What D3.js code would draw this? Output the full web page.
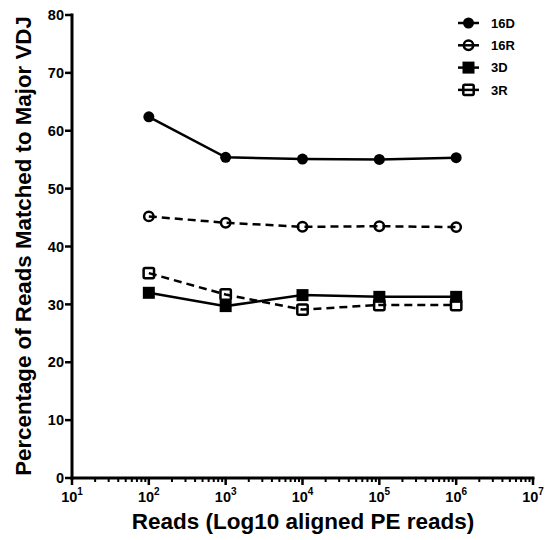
<!DOCTYPE html>
<html>
<head>
<meta charset="utf-8">
<script src="https://cdn.jsdelivr.net/npm/d3@7"></script>
<style>
  html, body { margin: 0; padding: 0; background: #fff; }
  svg { display: block; font-family: "Liberation Sans", Arial, sans-serif; }
</style>
</head>
<body>
<svg id="chart" width="547" height="540"></svg>
<script>
// Sequencing depth (aligned paired-end reads)
const reads = [1e2, 1e3, 1e4, 1e5, 1e6];

// Percentage of reads matched to the major VDJ, per sample
const seriesNames = ["16D", "16R", "3D", "3R"];
const values16D = [62.4, 55.4, 55.1, 55.05, 55.35];
const values16R = [45.2, 44.1, 43.4, 43.5, 43.35];
const values3D  = [32.0, 29.7, 31.6, 31.3, 31.3];
const values3R  = [35.4, 31.7, 29.1, 29.9, 29.9];

const yTicks = [0, 10, 20, 30, 40, 50, 60, 70, 80];
const xDecades = [1, 2, 3, 4, 5, 6, 7];

const series = [
  { name: seriesNames[0], values: values16D, symbol: "circle", filled: true,  dashed: false },
  { name: seriesNames[1], values: values16R, symbol: "circle", filled: false, dashed: true },
  { name: seriesNames[2], values: values3D,  symbol: "square", filled: true,  dashed: false },
  { name: seriesNames[3], values: values3R,  symbol: "square", filled: false, dashed: true }
];

const svg = d3.select("#chart");
const plotLeft = 72, plotRight = 533, plotTop = 15, plotBottom = 478;

const x = d3.scaleLog().domain([1e1, 1e7]).range([plotLeft, plotRight]);
const y = d3.scaleLinear().domain([0, 80]).range([plotBottom, plotTop]);

const ink = "#000";

// Y axis
const yAxis = svg.append("g").attr("transform", `translate(${plotLeft},0)`);
yAxis.append("line").attr("x1", 0).attr("x2", 0).attr("y1", y(80) - 1.5).attr("y2", plotBottom + 1.5)
  .attr("stroke", ink).attr("stroke-width", 3);
yTicks.forEach(t => {
  yAxis.append("line").attr("x1", -7).attr("x2", 0).attr("y1", y(t)).attr("y2", y(t))
    .attr("stroke", ink).attr("stroke-width", 2.5);
  yAxis.append("text").attr("x", -8).attr("y", y(t)).attr("dy", "0.36em")
    .attr("text-anchor", "end").attr("font-weight", "bold").attr("font-size", 14.5)
    .text(t);
});

// X axis (log scale with minor ticks)
const xAxis = svg.append("g").attr("transform", `translate(0,${plotBottom})`);
xAxis.append("line").attr("x1", plotLeft - 1.5).attr("x2", plotRight + 1.5).attr("y1", 0).attr("y2", 0)
  .attr("stroke", ink).attr("stroke-width", 3);
xDecades.forEach(d => {
  const v = Math.pow(10, d);
  xAxis.append("line").attr("x1", x(v)).attr("x2", x(v)).attr("y1", 0).attr("y2", 7)
    .attr("stroke", ink).attr("stroke-width", 2.5);
  const lbl = xAxis.append("text").attr("x", x(v)).attr("y", 24)
    .attr("text-anchor", "middle").attr("font-weight", "bold").attr("font-size", 14.5);
  lbl.append("tspan").text("10");
  lbl.append("tspan").attr("dy", -7).attr("font-size", 10).text(d);
  if (d < 7) {
    for (let m = 2; m <= 9; m++) {
      const mv = m * v;
      xAxis.append("line").attr("x1", x(mv)).attr("x2", x(mv)).attr("y1", 0).attr("y2", 4)
        .attr("stroke", ink).attr("stroke-width", 2);
    }
  }
});

// Axis titles
svg.append("text").attr("x", 303).attr("y", 529)
  .attr("text-anchor", "middle").attr("font-weight", "bold").attr("font-size", 22.5)
  .text("Reads (Log10 aligned PE reads)");
svg.append("text")
  .attr("transform", `translate(31,246) rotate(-90)`)
  .attr("text-anchor", "middle").attr("font-weight", "bold").attr("font-size", 22.3)
  .text("Percentage of Reads Matched to Major VDJ");

// Marker drawing
function drawMarker(g, s, cx, cy) {
  if (s.symbol === "circle") {
    if (s.filled) {
      g.append("circle").attr("cx", cx).attr("cy", cy).attr("r", 5.5).attr("fill", ink);
    } else {
      g.append("circle").attr("cx", cx).attr("cy", cy).attr("r", 4.7)
        .attr("fill", "none").attr("stroke", ink).attr("stroke-width", 2.5);
    }
  } else {
    if (s.filled) {
      g.append("rect").attr("x", cx - 6).attr("y", cy - 6).attr("width", 12).attr("height", 12)
        .attr("fill", ink);
    } else {
      g.append("rect").attr("x", cx - 5.2).attr("y", cy - 5.2).attr("width", 10.4).attr("height", 10.4)
        .attr("rx", 1.5).attr("fill", "none").attr("stroke", ink).attr("stroke-width", 2.5);
    }
  }
}

const line = d3.line().x(d => x(d[0])).y(d => y(d[1]));

const plot = svg.append("g");
series.forEach(s => {
  const pts = reads.map((r, i) => [r, s.values[i]]);
  plot.append("path").datum(pts).attr("d", line)
    .attr("fill", "none").attr("stroke", ink).attr("stroke-width", 2.5)
    .attr("stroke-dasharray", s.dashed ? "8,5" : null);
  const mg = plot.append("g");
  pts.forEach(p => drawMarker(mg, s, x(p[0]), y(p[1])));
});

// Legend
const legend = svg.append("g");
series.forEach((s, i) => {
  const ly = 23 + i * 22.3;
  legend.append("line").attr("x1", 458).attr("x2", 479).attr("y1", ly).attr("y2", ly)
    .attr("stroke", ink).attr("stroke-width", 2.5);
  drawMarker(legend, s, 468.5, ly);
  legend.append("text").attr("x", 491).attr("y", ly).attr("dy", "0.36em")
    .attr("font-weight", "bold").attr("font-size", 13).text(s.name);
});
</script>
</body>
</html>
